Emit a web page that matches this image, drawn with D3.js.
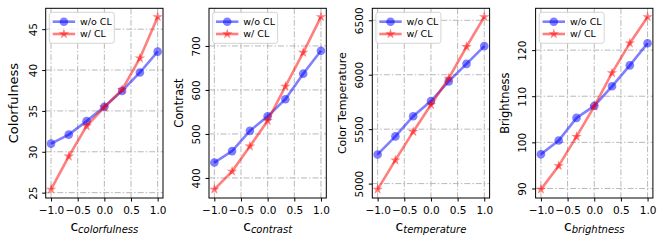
<!DOCTYPE html>
<html>
<head>
<meta charset="utf-8">
<script src="https://cdn.jsdelivr.net/npm/d3@7"></script>
<style>
  body { margin: 0; background: #fff; }
  text { font-family: "DejaVu Sans", sans-serif; }
</style>
</head>
<body>
<div id="chart"></div>
<script>
// four small panels: attribute value vs control coefficient c

var width = 665,
    height = 245;

// data
var cValues = [-1.0, -0.667, -0.333, 0.0, 0.333, 0.667, 1.0];
var xTicks = [-1.0, -0.5, 0.0, 0.5, 1.0];

var colorfulnessWo = [31.0, 32.1, 33.75, 35.5, 37.45, 39.7, 42.25];
var colorfulnessW  = [25.4, 29.45, 33.15, 35.45, 37.6, 41.45, 46.5];
var contrastWo     = [435, 461, 507, 540, 579, 637, 689];
var contrastW      = [374, 415, 472, 530, 608, 685, 766];
var temperatureWo  = [5268, 5434, 5619, 5758, 5939, 6100, 6263];
var temperatureW   = [4947, 5215, 5477, 5724, 5967, 6257, 6531];
var brightnessWo   = [97.4, 100.4, 105.3, 107.9, 112.15, 116.7, 121.5];
var brightnessW    = [89.8, 94.9, 101.25, 107.8, 115.05, 121.5, 127.2];

var colorfulnessTicks = [25, 30, 35, 40, 45];
var contrastTicks     = [400, 500, 600, 700];
var temperatureTicks  = [5000, 5500, 6000, 6500];
var brightnessTicks   = [90, 100, 110, 120];

var yLabels   = ["Colorfulness", "Contrast", "Color Temperature", "Brightness"];
var subLabels = ["colorfulness", "contrast", "temperature", "brightness"];
var seriesNames = ["w/o CL", "w/ CL"];

var panels = [
  { wo: colorfulnessWo, w: colorfulnessW, ticks: colorfulnessTicks, ylab: yLabels[0], sub: subLabels[0], yFont: 13 },
  { wo: contrastWo,     w: contrastW,     ticks: contrastTicks,     ylab: yLabels[1], sub: subLabels[1], yFont: 11.5 },
  { wo: temperatureWo,  w: temperatureW,  ticks: temperatureTicks,  ylab: yLabels[2], sub: subLabels[2], yFont: 11 },
  { wo: brightnessWo,   w: brightnessW,   ticks: brightnessTicks,   ylab: yLabels[3], sub: subLabels[3], yFont: 11.5 }
];

var svg = d3.select("#chart").append("svg")
    .attr("width", width)
    .attr("height", height);

// note: "top" is taken by window.top, so use other names
var pw = 117.3, ph = 189.7,
    panelTop = 8.3, panelLeft = 45.7, panelStep = 163.3;

var blue = "#0000ff", red = "#ff0000";

panels.forEach(function(p, i) {
  var g = svg.append("g")
      .attr("transform", "translate(" + (panelLeft + i * panelStep) + "," + panelTop + ")");

  var x = d3.scaleLinear().domain([-1.1, 1.1]).range([0, pw]);

  // matplotlib style 5% margin
  var all = p.wo.concat(p.w);
  var lo = d3.min(all), hi = d3.max(all), pad = (hi - lo) * 0.05;
  var y = d3.scaleLinear().domain([lo - pad, hi + pad]).range([ph, 0]);

  // grid
  g.selectAll(".gx").data(xTicks).enter().append("line")
      .attr("x1", function(d) { return x(d); })
      .attr("x2", function(d) { return x(d); })
      .attr("y1", 0).attr("y2", ph)
      .attr("stroke", "#b0b0b0").attr("stroke-width", 0.9)
      .attr("stroke-dasharray", "6,2,1.5,2");
  g.selectAll(".gy").data(p.ticks).enter().append("line")
      .attr("y1", function(d) { return y(d); })
      .attr("y2", function(d) { return y(d); })
      .attr("x1", 0).attr("x2", pw)
      .attr("stroke", "#b0b0b0").attr("stroke-width", 0.9)
      .attr("stroke-dasharray", "6,2,1.5,2");

  // axes
  var xAxis = g.append("g")
      .attr("transform", "translate(0," + ph + ")")
      .call(d3.axisBottom(x).tickValues(xTicks).tickFormat(d3.format(".1f")).tickSizeOuter(0).tickSize(3.5));
  xAxis.selectAll("text").attr("font-size", 10.5).attr("fill", "#000").attr("dy", "0.9em");

  var yAxis = g.append("g")
      .call(d3.axisLeft(y).tickValues(p.ticks).tickFormat(d3.format("d")).tickSizeOuter(0).tickSize(3.5));
  // rotated tick labels, like matplotlib rotation=90
  yAxis.selectAll(".tick text")
      .attr("font-size", 10.5).attr("fill", "#000")
      .attr("x", null).attr("y", null)
      .attr("text-anchor", "middle")
      .attr("dy", "0.35em")
      .attr("transform", "translate(-12.8,0) rotate(-90)");
  xAxis.select(".domain").remove();
  yAxis.select(".domain").remove();

  // frame
  g.append("rect")
      .attr("width", pw).attr("height", ph)
      .attr("fill", "none").attr("stroke", "#000").attr("stroke-width", 1);

  // series
  var line = d3.line()
      .x(function(d, j) { return x(cValues[j]); })
      .y(function(d) { return y(d); });

  g.append("path").datum(p.wo)
      .attr("d", line).attr("fill", "none")
      .attr("stroke", blue).attr("stroke-width", 2.6).attr("stroke-opacity", 0.5);
  g.selectAll(".dot").data(p.wo).enter().append("circle")
      .attr("class", "dot")
      .attr("cx", function(d, j) { return x(cValues[j]); })
      .attr("cy", function(d) { return y(d); })
      .attr("r", 4.3)
      .attr("fill", blue).attr("fill-opacity", 0.5);

  g.append("path").datum(p.w)
      .attr("d", line).attr("fill", "none")
      .attr("stroke", red).attr("stroke-width", 2.6).attr("stroke-opacity", 0.5);
  g.selectAll(".star").data(p.w).enter().append("path")
      .attr("class", "star")
      .attr("d", d3.symbol().type(d3.symbolStar).size(34))
      .attr("transform", function(d, j) { return "translate(" + x(cValues[j]) + "," + y(d) + ")"; })
      .attr("fill", red).attr("fill-opacity", 0.5);

  // legend
  var lg = g.append("g").attr("transform", "translate(3.6,4)");
  lg.append("rect")
      .attr("width", 65).attr("height", 31).attr("rx", 2.5)
      .attr("fill", "#fff").attr("fill-opacity", 0.8)
      .attr("stroke", "#d0d0d0").attr("stroke-width", 0.9);
  seriesNames.forEach(function(name, k) {
    var ly = k === 0 ? 9.4 : 21.7;
    var col = k === 0 ? blue : red;
    lg.append("line")
        .attr("x1", 3.4).attr("x2", 25.8).attr("y1", ly).attr("y2", ly)
        .attr("stroke", col).attr("stroke-width", 2.6).attr("stroke-opacity", 0.5);
    if (k === 0) {
      lg.append("circle").attr("cx", 14.6).attr("cy", ly).attr("r", 4.3)
          .attr("fill", col).attr("fill-opacity", 0.5);
    } else {
      lg.append("path")
          .attr("d", d3.symbol().type(d3.symbolStar).size(34))
          .attr("transform", "translate(14.6," + ly + ")")
          .attr("fill", col).attr("fill-opacity", 0.5);
    }
    lg.append("text")
        .attr("x", 30.7).attr("y", ly).attr("dy", "0.35em")
        .attr("font-size", 9.5)
        .text(name);
  });

  // y label
  g.append("text")
      .attr("transform", "translate(" + (i === 0 ? -32.4 : -30.5) + "," + (ph / 2) + ") rotate(-90)")
      .attr("text-anchor", "middle")
      .attr("dy", "0.35em")
      .attr("font-size", p.yFont)
      .text(p.ylab);

  // x label: c with italic subscript
  var xl = g.append("text")
      .attr("x", pw / 2).attr("y", 230.7 - panelTop)
      .attr("text-anchor", "middle");
  xl.append("tspan").attr("font-size", 14).text("c");
  xl.append("tspan").attr("font-size", 10).attr("font-style", "italic")
      .attr("dy", 2).text(p.sub);
});
</script>
</body>
</html>
